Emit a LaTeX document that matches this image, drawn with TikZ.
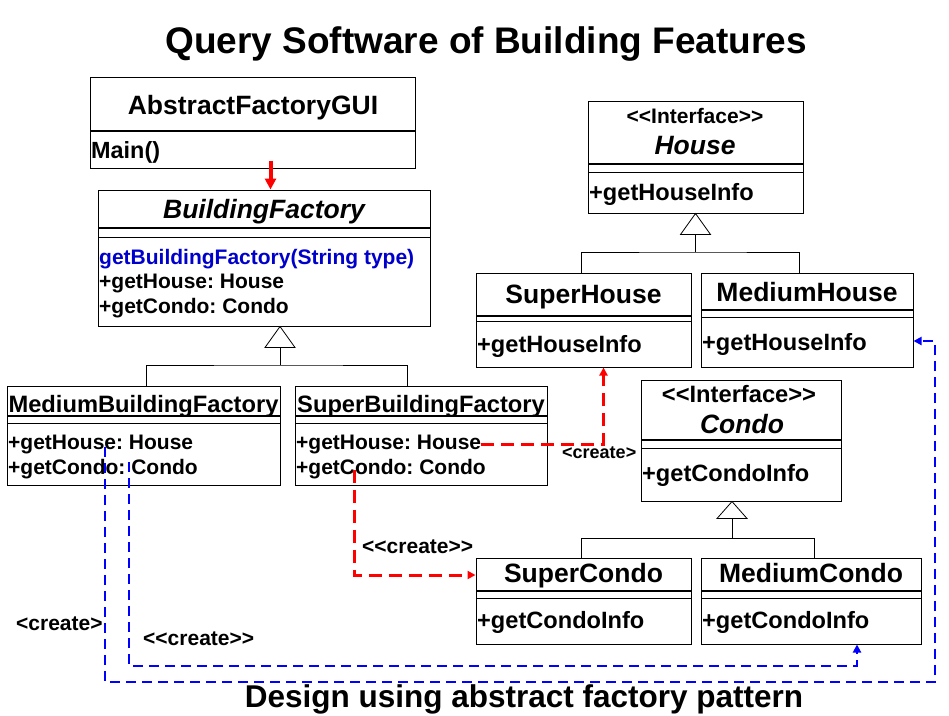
\documentclass[tikz,border=0pt]{standalone}
\usepackage{fontspec}
\setmainfont{Liberation Sans}
\frenchspacing
\usetikzlibrary{fit,arrows.meta}

\definecolor{linkred}{RGB}{255,0,0}
\definecolor{linkblue}{RGB}{0,0,255}
\definecolor{opblue}{RGB}{0,0,204}

\tikzset{
  box/.style={draw, inner sep=0pt, line width=1pt},
  cname/.style={anchor=base, inner sep=0pt, font=\fontsize{26.5}{28}\selectfont\bfseries},
  iname/.style={cname, font=\fontsize{26.5}{28}\selectfont\bfseries\itshape},
  fname/.style={cname, font=\fontsize{23.7}{26}\selectfont\bfseries},
  stereo/.style={anchor=base, inner sep=0pt, font=\fontsize{21}{23}\selectfont\bfseries},
  op/.style={anchor=base west, inner sep=0pt, font=\fontsize{21}{23}\selectfont\bfseries},
  bigop/.style={op, font=\fontsize{23.6}{26}\selectfont\bfseries},
  lbl/.style={anchor=base west, inner sep=0pt, font=\fontsize{21}{23}\selectfont\bfseries},
  gen/.style={draw, line width=0.8pt},
  redcreate/.style={linkred, line width=3pt, dash pattern=on 13pt off 7pt, -{Triangle[length=8pt,width=8pt]}},
  bluecreate/.style={linkblue, line width=2.8pt, dash pattern=on 10pt off 6pt, -{Triangle[length=8pt,width=8pt]}},
}

\begin{document}
\begin{tikzpicture}[x=1pt, y=-1pt]
\useasboundingbox (0,0) rectangle (949,715);

% headings
\node[anchor=base, inner sep=0pt, font=\fontsize{37}{40}\selectfont\bfseries] (head) at (486,53) {Query Software of Building Features};
\node[anchor=base, inner sep=0pt, font=\fontsize{31.5}{34}\selectfont\bfseries] (foot) at (524,707) {Design using abstract factory pattern};

% factory side
\node[box, fit={(90,77) (415,168)}] (gui) {};
\node[cname] (guiname) at (253,114) {AbstractFactoryGUI};
\node[op, font=\fontsize{23.4}{26}\selectfont\bfseries] (guimain) at (91,158) {Main()};

\node[box, fit={(98,190) (430,326)}] (bf) {};
\node[iname] (bfname) at (264,218) {BuildingFactory};
\node[op, opblue] (bfget) at (99,264) {getBuildingFactory(String type)};
\node[op] (bfh) at (99,288) {+getHouse: House};
\node[op] (bfc) at (99,313) {+getCondo: Condo};

\node[box, fit={(7,386) (280,485)}] (mbf) {};
\node[fname] (mbfname) at (143.5,412) {MediumBuildingFactory};
\node[op] (mbfh) at (8,449) {+getHouse: House};
\node[op] (mbfc) at (8,474) {+getCondo: Condo};

\node[box, fit={(295,386) (547,485)}] (sbf) {};
\node[fname] (sbfname) at (421,412) {SuperBuildingFactory};
\node[op] (sbfh) at (296,449) {+getHouse: House};
\node[op] (sbfc) at (296,474) {+getCondo: Condo};

% products
\node[box, fit={(588,101) (803,213)}] (house) {};
\node[stereo] (hst) at (695,123) {<{}<Interface>{}>};
\node[iname] (hname) at (695,154) {House};
\node[bigop] (hop) at (589,200) {+getHouseInfo};

\node[box, fit={(476,273) (691,367)}] (sh) {};
\node[cname] (shname) at (583.5,303) {SuperHouse};
\node[bigop] (shop) at (477,352) {+getHouseInfo};

\node[box, fit={(701,273) (913,367)}] (mh) {};
\node[cname] (mhname) at (807,301) {MediumHouse};
\node[bigop] (mhop) at (702,350) {+getHouseInfo};

\node[box, fit={(641,380) (841,501)}] (condo) {};
\node[stereo, font=\fontsize{23.7}{26}\selectfont\bfseries] (cst) at (739,402) {<{}<Interface>{}>};
\node[iname] (cname) at (742,433) {Condo};
\node[bigop] (cop) at (642,481) {+getCondoInfo};

\node[box, fit={(476,558) (691,644)}] (sc) {};
\node[cname] (scname) at (583.5,582) {SuperCondo};
\node[bigop] (scop) at (477,628) {+getCondoInfo};

\node[box, fit={(701,558) (921,644)}] (mc) {};
\node[cname] (mcname) at (811,582) {MediumCondo};
\node[bigop] (mcop) at (702,628) {+getCondoInfo};

% compartments
\draw[line width=1.6pt] (90,131) -- (415,131);
\foreach \xa/\xb/\ya/\yb in {98/430/228/237, 7/280/416/423, 295/547/416/423,
    588/803/164/172, 476/691/316/321, 701/913/310/317,
    641/841/440/448, 476/691/591/598, 701/921/591/598}
  {\draw[line width=1.4pt] (\xa,\ya) -- (\xb,\ya);
   \draw (\xa,\yb) -- (\xb,\yb);}

% generalisation
\coordinate (bfj) at (280,365);
\draw[gen, fill=white] ([xshift=16pt]bf.south) -- ++(-15,21) -- ++(30,0) -- cycle;
\draw[gen] ([xshift=16pt]bf.south) ++(0,21) -- (bfj);
\draw[gen] ([xshift=3pt]mbf.north) |- (bfj) -| ([xshift=-14pt]sbf.north);

\coordinate (hj) at (695.5,252);
\draw[gen, fill=white] (house.south) -- ++(-15,21) -- ++(30,0) -- cycle;
\draw[gen] (house.south) ++(0,21) -- (hj);
\draw[gen] ([xshift=-2pt]sh.north) |- (hj) -| ([xshift=-8pt]mh.north);

\coordinate (cj) at (732,538);
\draw[gen, fill=white] ([xshift=-9pt]condo.south) -- ++(-15,17) -- ++(30,0) -- cycle;
\draw[gen] ([xshift=-9pt]condo.south) ++(0,17) -- (cj);
\draw[gen] ([xshift=-2pt]sc.north) |- (cj) -| ([xshift=3pt]mc.north);

% calls
\draw[linkred, line width=4pt, -{Triangle[length=11pt,width=11pt]}] ([xshift=18pt,yshift=8pt]gui.south) -- ([xshift=6.5pt]bf.north);

\draw[redcreate] (sbfh.east) -| ([xshift=20pt]sh.south);
\node[lbl, font=\fontsize{18}{20}\selectfont\bfseries] (lc1) at (562,458) {<create>};

\coordinate (sbfd) at (354,470);
\draw[redcreate] (sbfd) |- ([yshift=26pt]sc.west);
\node[lbl] (lc2) at (362,553) {<{}<create>{}>};

\coordinate (mbfa) at (105,447);
\coordinate (outer) at (935,682);
\draw[bluecreate] (mbfa) |- (outer) |- ([yshift=-21pt]mh.east);
\node[lbl] (lc3) at (16,630) {<create>};

\coordinate (mbfb) at (129,462);
\coordinate (inner) at (857,666);
\draw[bluecreate] (mbfb) |- (inner) -- ([xshift=46pt]mc.south);
\node[lbl] (lc4) at (143,645) {<{}<create>{}>};
\end{tikzpicture}
\end{document}
